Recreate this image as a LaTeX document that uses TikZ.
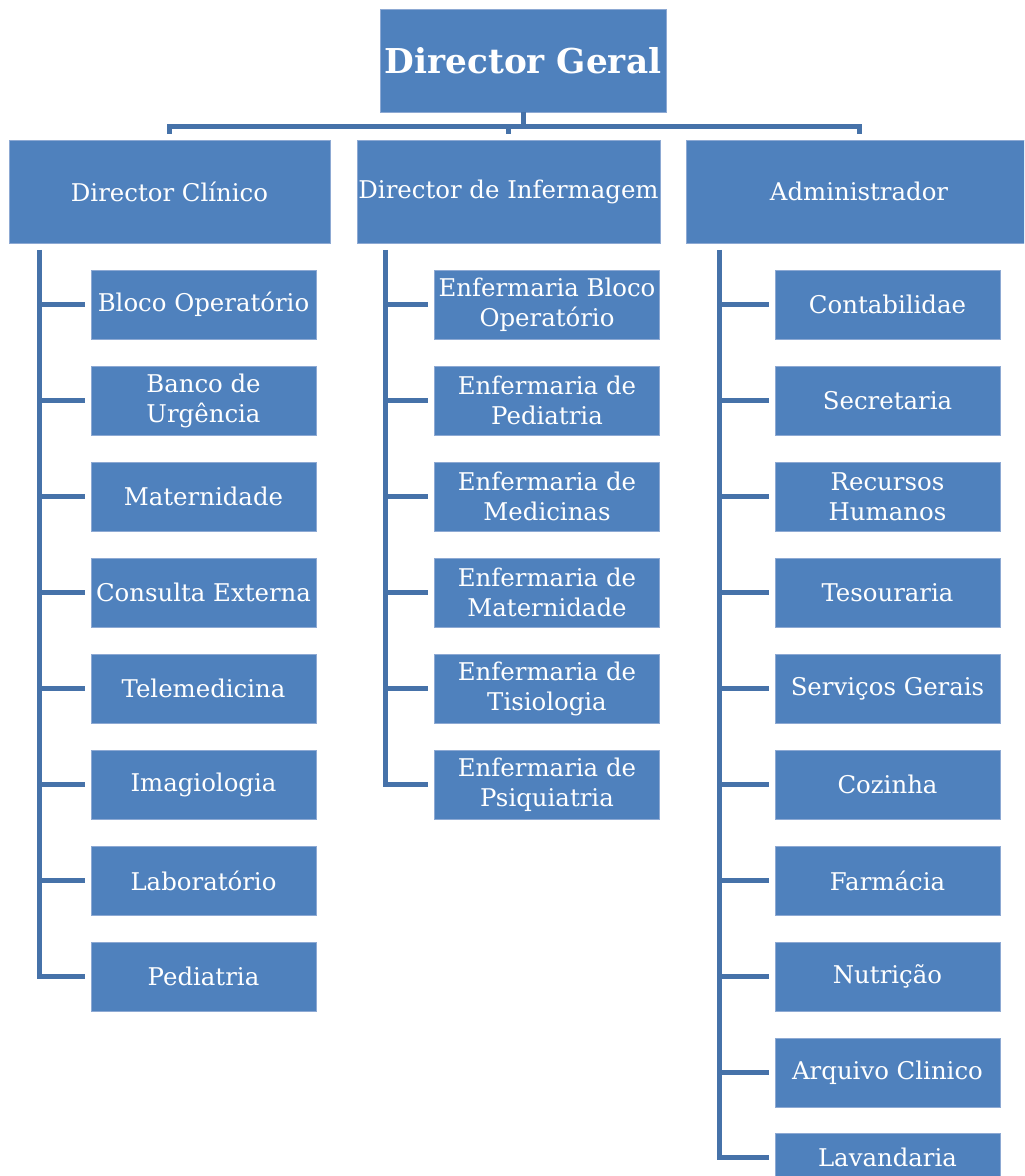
\documentclass[tikz,border=0pt]{standalone}
\usepackage{fontspec}
\setmainfont{DejaVu Serif}
\usetikzlibrary{positioning}
\definecolor{boxblue}{HTML}{4F81BD}
\definecolor{boxedge}{HTML}{8DA9D3}
\definecolor{linkblue}{HTML}{4672A9}

\begin{document}
\begin{tikzpicture}[x=0.75pt, y=-0.75pt,
  headbox/.style={fill=boxblue, draw=boxedge, line width=0.6pt, text=white, inner sep=0pt,
    minimum height=77.25pt, font=\bfseries\fontsize{25.7}{30}\selectfont},
  chiefbox/.style={fill=boxblue, draw=boxedge, line width=0.6pt, text=white, inner sep=0pt,
    minimum height=77.25pt, font=\fontsize{18.3}{22.5}\selectfont},
  unitbox/.style={fill=boxblue, draw=boxedge, line width=0.6pt, text=white, inner sep=0pt,
    minimum width=168.75pt, minimum height=51.75pt, align=center,
    font=\fontsize{18.3}{22.5}\selectfont},
  link/.style={draw=linkblue, line width=3.75pt}]
  % Page frame
  \useasboundingbox (0,0) rectangle (1024,1176);
  \clip (0,0) rectangle (1024,1176);

  % Top of the chart
  \node[headbox, minimum width=214.5pt] (geral) at (523,60.5) {Director Geral};

  % The three directors
  \node[chiefbox, minimum width=240.75pt] (clin) at (169.5,191.5) {Director Clínico};
  \node[chiefbox, minimum width=227.25pt] (enf) at (508.5,191.5) {Director de Infermagem};
  \node[chiefbox, minimum width=259.5pt] (adm) at (859,191.5) {Administrador};

  % Bus from the top box to the directors
  \draw[link] (geral.south) -- ++(0,14) coordinate (hub);
  \draw[link] ([yshift=4.5pt]clin.north) |- (hub) -| ([yshift=4.5pt]adm.north);
  \draw[link] ([yshift=4.5pt]enf.north) -- (enf.north |- hub);

  % Left column: clinical units
  \node[unitbox] (bloco) at (203.5,304.5) {Bloco Operatório};
  \node[unitbox] (banco) at (203.5,400.5) {Banco de\\Urgência};
  \node[unitbox] (mater) at (203.5,496.5) {Maternidade};
  \node[unitbox] (consulta) at (203.5,592.5) {Consulta Externa};
  \node[unitbox] (tele) at (203.5,688.5) {Telemedicina};
  \node[unitbox] (imagio) at (203.5,784.5) {Imagiologia};
  \node[unitbox] (labor) at (203.5,880.5) {Laboratório};
  \node[unitbox] (pedia) at (203.5,976.5) {Pediatria};

  % Middle column: nursing wards
  \node[unitbox] (ebloco) at (547,304.5) {Enfermaria Bloco\\Operatório};
  \node[unitbox] (epedia) at (547,400.5) {Enfermaria de\\Pediatria};
  \node[unitbox] (emedic) at (547,496.5) {Enfermaria de\\Medicinas};
  \node[unitbox] (emater) at (547,592.5) {Enfermaria de\\Maternidade};
  \node[unitbox] (etisio) at (547,688.5) {Enfermaria de\\Tisiologia};
  \node[unitbox] (epsiq) at (547,784.5) {Enfermaria de\\Psiquiatria};

  % Right column: administration
  \node[unitbox] (conta) at (887.5,304.5) {Contabilidae};
  \node[unitbox] (secre) at (887.5,400.5) {Secretaria};
  \node[unitbox] (recur) at (887.5,496.5) {Recursos\\Humanos};
  \node[unitbox] (tesou) at (887.5,592.5) {Tesouraria};
  \node[unitbox] (servi) at (887.5,688.5) {Serviços Gerais};
  \node[unitbox] (cozin) at (887.5,784.5) {Cozinha};
  \node[unitbox] (farma) at (887.5,880.5) {Farmácia};
  \node[unitbox] (nutri) at (887.5,976.5) {Nutrição};
  \node[unitbox] (arqui) at (887.5,1072.5) {Arquivo Clinico};
  \node[unitbox, minimum height=36pt] (lavan) at (887.5,1157) {Lavandaria};

  % Trunks under each director
  \coordinate (clinTrunk) at (39.5,250);
  \coordinate (enfTrunk) at (385,250);
  \coordinate (admTrunk) at (719.5,250);

  % Left branches
  \draw[link] (clinTrunk) |- ([xshift=-4.5pt]pedia.west);
  \draw[link] (clinTrunk |- bloco.west) -- ([xshift=-4.5pt]bloco.west);
  \draw[link] (clinTrunk |- banco.west) -- ([xshift=-4.5pt]banco.west);
  \draw[link] (clinTrunk |- mater.west) -- ([xshift=-4.5pt]mater.west);
  \draw[link] (clinTrunk |- consulta.west) -- ([xshift=-4.5pt]consulta.west);
  \draw[link] (clinTrunk |- tele.west) -- ([xshift=-4.5pt]tele.west);
  \draw[link] (clinTrunk |- imagio.west) -- ([xshift=-4.5pt]imagio.west);
  \draw[link] (clinTrunk |- labor.west) -- ([xshift=-4.5pt]labor.west);

  % Middle branches
  \draw[link] (enfTrunk) |- ([xshift=-4.5pt]epsiq.west);
  \draw[link] (enfTrunk |- ebloco.west) -- ([xshift=-4.5pt]ebloco.west);
  \draw[link] (enfTrunk |- epedia.west) -- ([xshift=-4.5pt]epedia.west);
  \draw[link] (enfTrunk |- emedic.west) -- ([xshift=-4.5pt]emedic.west);
  \draw[link] (enfTrunk |- emater.west) -- ([xshift=-4.5pt]emater.west);
  \draw[link] (enfTrunk |- etisio.west) -- ([xshift=-4.5pt]etisio.west);

  % Right branches
  \draw[link] (admTrunk) |- ([xshift=-4.5pt]lavan.west);
  \draw[link] (admTrunk |- conta.west) -- ([xshift=-4.5pt]conta.west);
  \draw[link] (admTrunk |- secre.west) -- ([xshift=-4.5pt]secre.west);
  \draw[link] (admTrunk |- recur.west) -- ([xshift=-4.5pt]recur.west);
  \draw[link] (admTrunk |- tesou.west) -- ([xshift=-4.5pt]tesou.west);
  \draw[link] (admTrunk |- servi.west) -- ([xshift=-4.5pt]servi.west);
  \draw[link] (admTrunk |- cozin.west) -- ([xshift=-4.5pt]cozin.west);
  \draw[link] (admTrunk |- farma.west) -- ([xshift=-4.5pt]farma.west);
  \draw[link] (admTrunk |- nutri.west) -- ([xshift=-4.5pt]nutri.west);
  \draw[link] (admTrunk |- arqui.west) -- ([xshift=-4.5pt]arqui.west);
\end{tikzpicture}
\end{document}
